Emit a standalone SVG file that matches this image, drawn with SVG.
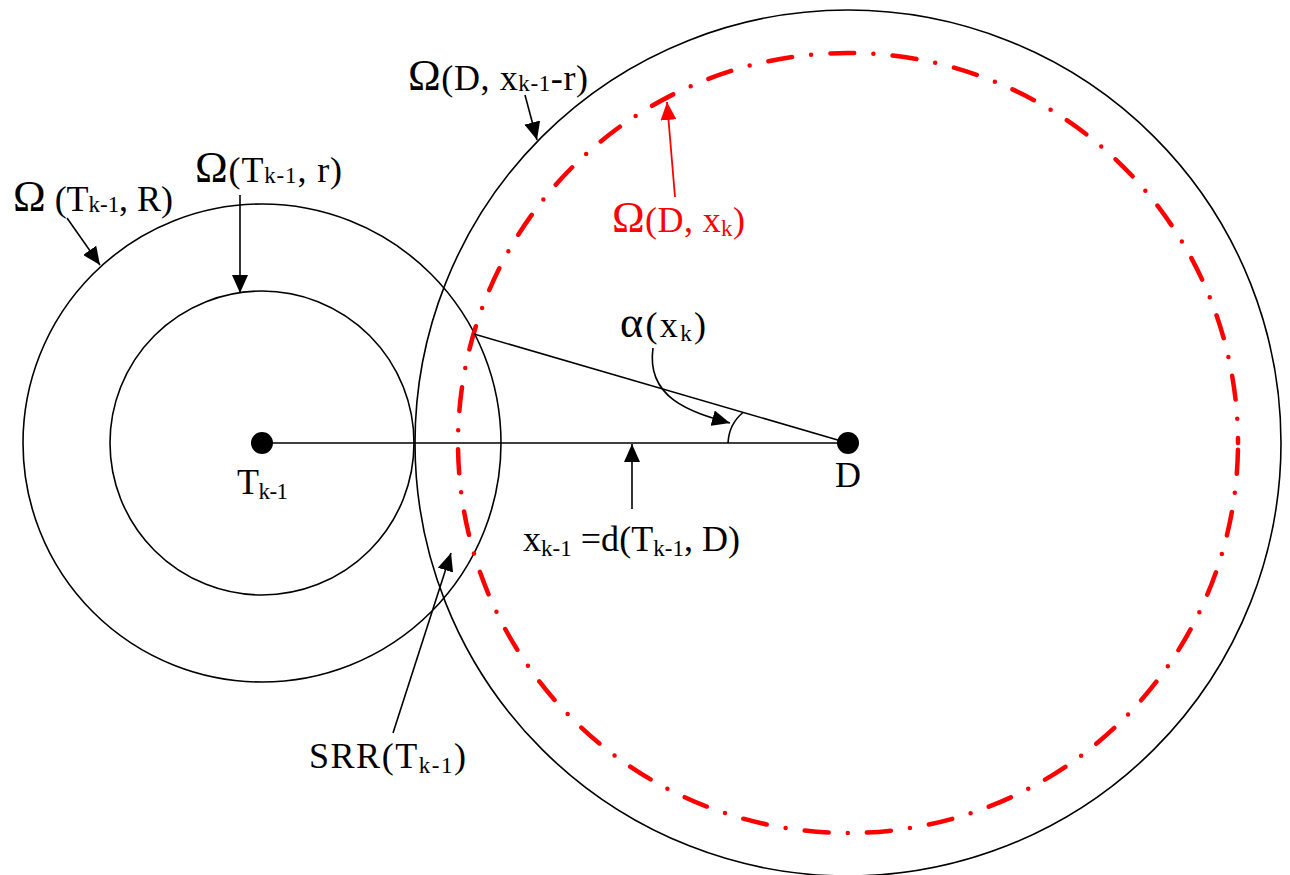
<svg xmlns="http://www.w3.org/2000/svg" width="1290" height="875" viewBox="0 0 1290 875">
<style>
  .c { fill: none; stroke: #000; stroke-width: 1.6; }
  .ln { fill: none; stroke: #000; stroke-width: 1.6; }
  .red { fill: none; stroke: #ff0000; stroke-width: 4.5; stroke-linecap: round; stroke-dasharray: 24 19.25 0 19.25; stroke-dashoffset: 55.65; }
  text { font-family: "Liberation Serif", "Times New Roman", serif; font-size: 36px; fill: #000; }
  .om { font-size: 44px; }
  .sub { font-size: 23px; }
  .rt { fill: #ff0000; }
</style>
<defs>
  <marker id="ah" viewBox="0 0 18 16" refX="18" refY="8" markerWidth="18" markerHeight="16" orient="auto" markerUnits="userSpaceOnUse">
    <path d="M0,0 L18,8 L0,16 z" fill="#000"/>
  </marker>
  <marker id="ahr" viewBox="0 0 18 16" refX="18" refY="8" markerWidth="18" markerHeight="16" orient="auto" markerUnits="userSpaceOnUse">
    <path d="M0,0 L18,8 L0,16 z" fill="#ff0000"/>
  </marker>
</defs>

<g id="circle-T-R"><circle class="c" cx="262" cy="443" r="239"/></g>
<g id="circle-T-r"><circle class="c" cx="262" cy="443" r="152"/></g>
<g id="circle-D-outer"><circle class="c" cx="848" cy="443" r="433"/></g>
<g id="circle-D-xk"><circle class="red" cx="848" cy="443" r="390"/></g>

<g id="connectors">
  <line class="ln" x1="262" y1="443" x2="848" y2="443"/>
  <line class="ln" x1="474" y1="334" x2="848" y2="443"/>
  <path class="ln" d="M728,443 Q729,424 743,412.5"/>
  <line class="ln" x1="67" y1="218" x2="100" y2="265" marker-end="url(#ah)"/>
  <line class="ln" x1="240" y1="195" x2="240" y2="293" marker-end="url(#ah)"/>
  <line class="ln" x1="525" y1="95" x2="537" y2="140" marker-end="url(#ah)"/>
  <line x1="675" y1="197" x2="667" y2="102" stroke="#ff0000" stroke-width="1.8" marker-end="url(#ahr)"/>
  <path class="ln" d="M653,348 C646,398 690,412 730,423" marker-end="url(#ah)"/>
  <line class="ln" x1="632" y1="509" x2="632" y2="444" marker-end="url(#ah)"/>
  <line class="ln" x1="393" y1="733" x2="451" y2="553" marker-end="url(#ah)"/>
</g>

<g id="node-T">
  <circle cx="262" cy="443" r="11" fill="#000"/>
  <text x="237" y="494" textLength="51">T<tspan class="sub" dy="5">k-1</tspan></text>
</g>
<g id="node-D">
  <circle cx="848" cy="443" r="11" fill="#000"/>
  <text x="835" y="487">D</text>
</g>

<g id="label-omega-T-R">
  <text x="13" y="211" textLength="160"><tspan class="om">Ω</tspan> (T<tspan class="sub" dy="1">k-1</tspan><tspan dy="-1">, R)</tspan></text>
</g>
<g id="label-omega-T-r">
  <text x="195" y="182" textLength="147"><tspan class="om">Ω</tspan>(T<tspan class="sub" dy="1">k-1</tspan><tspan dy="-1">, r)</tspan></text>
</g>
<g id="label-omega-D-outer">
  <text x="408" y="90" textLength="180"><tspan class="om">Ω</tspan>(D, x<tspan class="sub" dy="1">k-1</tspan><tspan dy="-1">-r)</tspan></text>
</g>
<g id="label-omega-D-xk">
  <text class="rt" x="612" y="232" textLength="133"><tspan class="om">Ω</tspan>(D, x<tspan class="sub" dy="4">k</tspan><tspan dy="-4">)</tspan></text>
</g>
<g id="label-alpha">
  <text x="620" y="337" textLength="86"><tspan class="om">α</tspan>(x<tspan class="sub" dy="4">k</tspan><tspan dy="-4">)</tspan></text>
</g>
<g id="label-distance">
  <text x="523" y="551" textLength="217">x<tspan class="sub" dy="5">k-1</tspan><tspan dy="-5"> =d(T</tspan><tspan class="sub" dy="5">k-1</tspan><tspan dy="-5">, D)</tspan></text>
</g>
<g id="label-SRR">
  <text x="309" y="768" textLength="157">SRR(T<tspan class="sub" dy="5">k-1</tspan><tspan dy="-5">)</tspan></text>
</g>
</svg>
